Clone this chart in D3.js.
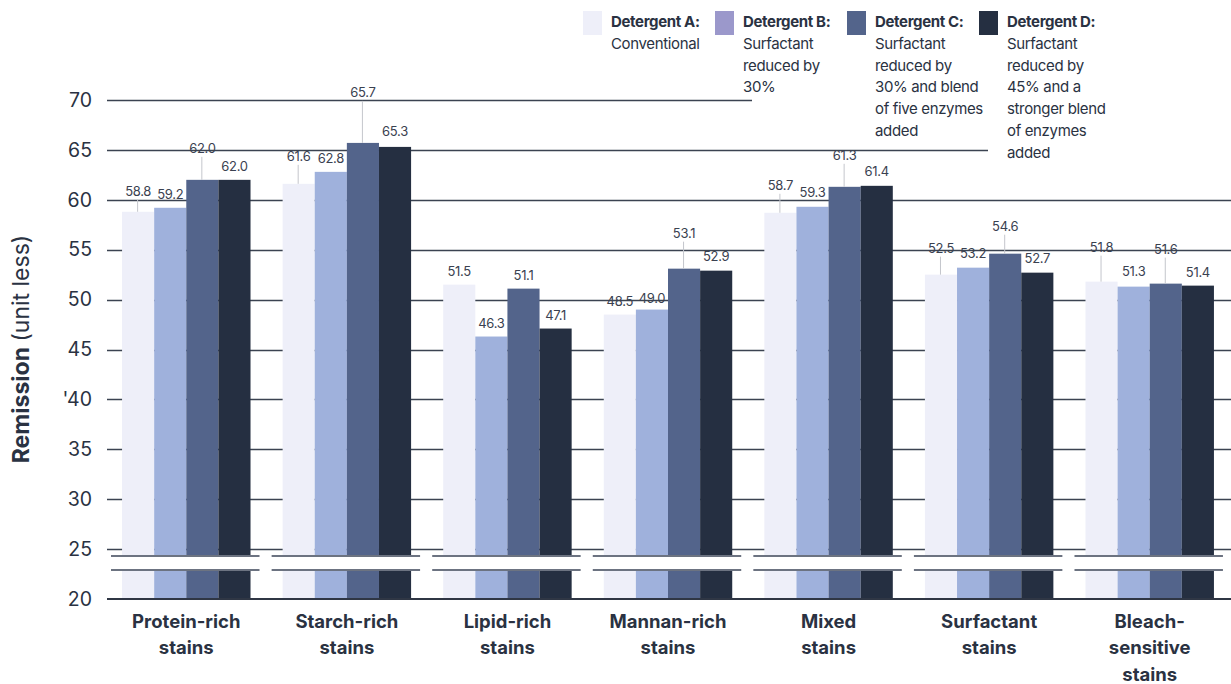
<!DOCTYPE html>
<html>
<head>
<meta charset="utf-8">
<script src="https://cdn.jsdelivr.net/npm/d3@7"></script>
<style>
  html, body { margin: 0; padding: 0; background: #ffffff; }
  svg { display: block; font-family: Inter, "Noto Sans", Roboto, sans-serif; }
</style>
</head>
<body>
<svg id="chart" width="1231" height="684"></svg>
<script>
// Stain categories (multi-line axis labels)
const categories = [
  ["Protein-rich", "stains"],
  ["Starch-rich", "stains"],
  ["Lipid-rich", "stains"],
  ["Mannan-rich", "stains"],
  ["Mixed", "stains"],
  ["Surfactant", "stains"],
  ["Bleach-", "sensitive", "stains"]
];

// Detergent series
const seriesNames = ["Detergent A:", "Detergent B:", "Detergent C:", "Detergent D:"];
const seriesDescriptions = [
  ["Conventional"],
  ["Surfactant", "reduced by", "30%"],
  ["Surfactant", "reduced by", "30% and blend", "of five enzymes", "added"],
  ["Surfactant", "reduced by", "45% and a", "stronger blend", "of enzymes", "added"]
];

// Remission values per category, one array per detergent
const detergentA = [58.8, 61.6, 51.5, 48.5, 58.7, 52.5, 51.8];
const detergentB = [59.2, 62.8, 46.3, 49.0, 59.3, 53.2, 51.3];
const detergentC = [62.0, 65.7, 51.1, 53.1, 61.3, 54.6, 51.6];
const detergentD = [62.0, 65.3, 47.1, 52.9, 61.4, 52.7, 51.4];

// Y axis ticks
const yTicks = [20, 25, 30, 35, 40, 45, 50, 55, 60, 65, 70];
const yTickLabels = ["20", "25", "30", "35", "'40", "45", "50", "55", "60", "65", "70"];

// ---- styling / layout ----
const barColors = ["#eeeff9", "#9fb1dc", "#53648b", "#252f41"];
const legendColors = ["#eeeff9", "#9b98cb", "#53648b", "#252f41"];
const textColor = "#2a3242";
const gridColor = "#3b4351";

// extra lift (px) of each value label above its bar, with a leader line
const labelLift = [
  [7, 0, 18, 0],
  [14, 0, 37, 2],
  [0, 0, 0, 0],
  [0, -2, 22, 1],
  [14, 1, 18, 1],
  [13, 1, 14, 1],
  [21, 2, 21, 0]
];

const series = [detergentA, detergentB, detergentC, detergentD];
const data = categories.map((c, i) => ({
  key: c.join(" "),
  lines: c,
  values: series.map((s, j) => ({ j, v: s[i], lift: labelLift[i][j] }))
}));

const svg = d3.select("#chart");
const plotLeft = 107, plotRight = 1231, plotTop = 100, plotBottom = 599;

const y = d3.scaleLinear().domain([20, 70]).range([plotBottom, plotTop]);
const x0 = d3.scaleBand().domain(data.map(d => d.key)).range([plotLeft - 1, 1230])
  .paddingInner(0.2).paddingOuter(0.1);
const x1 = d3.scaleBand().domain(d3.range(4)).range([0, x0.bandwidth()]).padding(0);

// horizontal gridlines (upper ones stop short of the legend)
const gridEnd = v => v === 70 ? 752 : (v === 65 ? 988 : plotRight);
svg.append("g").selectAll("line")
  .data(yTicks.filter(v => v > 20))
  .join("line")
  .attr("x1", plotLeft).attr("x2", v => gridEnd(v))
  .attr("y1", v => Math.round(y(v)) + 0.5).attr("y2", v => Math.round(y(v)) + 0.5)
  .attr("stroke", gridColor).attr("stroke-width", 1.4);

// y axis labels
const yAxis = d3.axisLeft(y).tickValues(yTicks)
  .tickFormat((d, i) => yTickLabels[i]).tickSize(0).tickPadding(0);
const yg = svg.append("g").attr("transform", `translate(${92},0)`).call(yAxis);
yg.select(".domain").remove();
yg.selectAll("text")
  .attr("font-size", 19.5).attr("fill", textColor)
  .attr("font-family", "Inter, 'Noto Sans', sans-serif");

// bars
const groups = svg.append("g").selectAll("g")
  .data(data).join("g")
  .attr("transform", d => `translate(${x0(d.key)},0)`);

groups.selectAll("rect")
  .data(d => d.values).join("rect")
  .attr("x", d => x1(d.j))
  .attr("y", d => y(d.v))
  .attr("width", x1.bandwidth())
  .attr("height", d => y(20) - y(d.v))
  .attr("fill", d => barColors[d.j]);

// axis break: white band with edge lines per group
const breakTop = 556, breakBottom = 570;
svg.append("rect").attr("x", plotLeft).attr("y", breakTop).attr("width", plotRight - plotLeft)
  .attr("height", breakBottom - breakTop).attr("fill", "#ffffff");
const segs = [[111, 120]].concat(data.map(d => [x0(d.key) - 11, x0(d.key) + x0.bandwidth() + 9]));
[breakTop, breakBottom].forEach(yy => {
  svg.append("g").selectAll("line").data(segs).join("line")
    .attr("x1", s => s[0]).attr("x2", s => s[1])
    .attr("y1", yy).attr("y2", yy)
    .attr("stroke", "#6c7381").attr("stroke-width", 1.8);
});

// baseline
svg.append("line").attr("x1", plotLeft).attr("x2", plotRight)
  .attr("y1", y(20)).attr("y2", y(20))
  .attr("stroke", "#2f3644").attr("stroke-width", 2);

// value labels with leader lines
groups.selectAll("line.leader")
  .data(d => d.values.filter(v => v.lift > 3)).join("line")
  .attr("class", "leader")
  .attr("x1", d => x1(d.j) + x1.bandwidth() / 2 - 0.5)
  .attr("x2", d => x1(d.j) + x1.bandwidth() / 2 - 0.5)
  .attr("y1", d => y(d.v) - 14 - d.lift + 9)
  .attr("y2", d => y(d.v))
  .attr("stroke", "#c4c6cc").attr("stroke-width", 1);

groups.selectAll("text.val")
  .data(d => d.values).join("text")
  .attr("class", "val")
  .attr("x", d => x1(d.j) + x1.bandwidth() / 2)
  .attr("y", d => y(d.v) - 14 - d.lift + 5)
  .attr("text-anchor", "middle")
  .attr("font-size", 13).attr("fill", "#3a4150")
  .attr("letter-spacing", -0.3)
  .text(d => d.v.toFixed(1));

// category labels
groups.append("text")
  .attr("text-anchor", "middle")
  .attr("font-size", 18.5).attr("font-weight", 700).attr("fill", textColor)
  .selectAll("tspan").data(d => d.lines.map(l => ({ l, w: x0.bandwidth() }))).join("tspan")
  .attr("x", d => d.w / 2)
  .attr("y", (d, i) => 627.5 + i * 26.7)
  .text(d => d.l);

// y axis title
const yt = svg.append("text")
  .attr("transform", `translate(29,349) rotate(-90)`)
  .attr("text-anchor", "middle")
  .attr("font-size", 23).attr("fill", textColor);
yt.append("tspan").attr("font-weight", 700).text("Remission ");
yt.append("tspan").attr("font-weight", 400).text("(unit less)");

// legend
const legend = svg.append("g").selectAll("g")
  .data(seriesNames).join("g")
  .attr("transform", (d, i) => `translate(${583 + i * 132},0)`);
legend.append("rect")
  .attr("x", 0).attr("y", 11).attr("width", 19).attr("height", 24)
  .attr("fill", (d, i) => legendColors[i]);
legend.append("text")
  .attr("x", 28).attr("y", 27)
  .attr("font-size", 15).attr("font-weight", 700).attr("fill", textColor)
  .attr("letter-spacing", -0.35)
  .text(d => d);
legend.append("text")
  .attr("font-size", 15).attr("fill", textColor)
  .attr("letter-spacing", -0.35)
  .selectAll("tspan").data((d, i) => seriesDescriptions[i]).join("tspan")
  .attr("x", 28).attr("y", (d, i) => 49 + i * 21.7)
  .text(d => d);
</script>
</body>
</html>
